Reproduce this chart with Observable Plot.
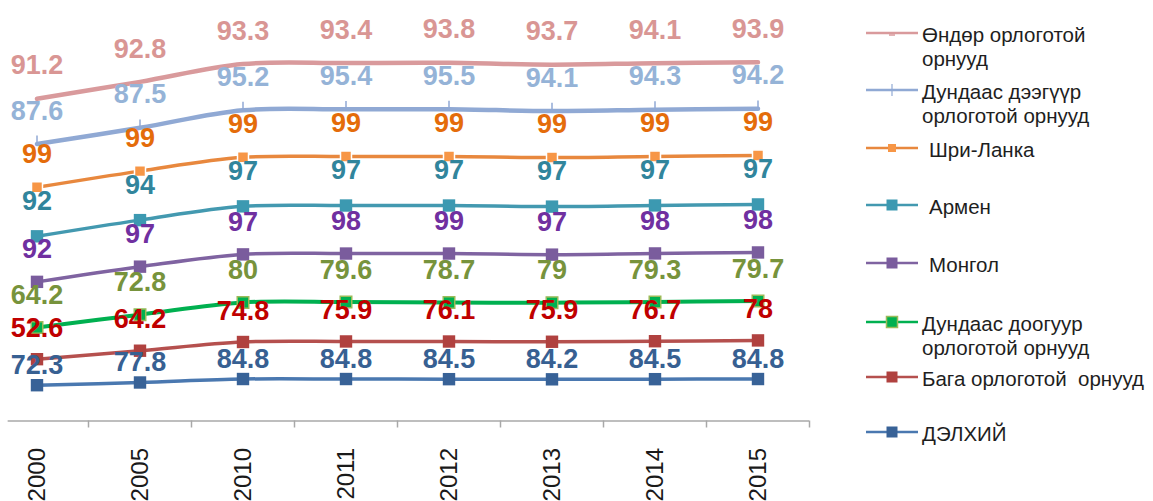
<!DOCTYPE html>
<html>
<head>
<meta charset="utf-8">
<script src="https://cdn.jsdelivr.net/npm/d3@7"></script>
<script src="https://cdn.jsdelivr.net/npm/@observablehq/plot@0.6"></script>
<style>
  html, body { margin: 0; padding: 0; background: #fff; }
  #wrap { position: relative; width: 1153px; height: 501px; overflow: hidden; font-family: "Liberation Sans", Arial, sans-serif; }
  .leg { position: absolute; }
  .legtxt { position: absolute; font-size: 20.5px; line-height: 24px; color: #1e1e1e; white-space: nowrap; }
</style>
</head>
<body>
<div id="wrap"></div>
<script>
// ---- data ----
const years = ["2000", "2005", "2010", "2011", "2012", "2013", "2014", "2015"];
// legend order (top to bottom)
const seriesNames = [
  "Өндөр орлоготой орнууд",
  "Дундаас дээгүүр орлоготой орнууд",
  "Шри-Ланка",
  "Армен",
  "Монгол",
  "Дундаас доогуур орлоготой орнууд",
  "Бага орлоготой орнууд",
  "ДЭЛХИЙ"
];
const highIncome     = [91.2, 92.8, 93.3, 93.4, 93.8, 93.7, 94.1, 93.9];
const upperMiddle    = [87.6, 87.5, 95.2, 95.4, 95.5, 94.1, 94.3, 94.2];
const sriLanka       = [99, 99, 99, 99, 99, 99, 99, 99];
const armenia        = [92, 94, 97, 97, 97, 97, 97, 97];
const mongolia       = [92, 97, 97, 98, 99, 97, 98, 98];
const lowerMiddle    = [64.2, 72.8, 80, 79.6, 78.7, 79, 79.3, 79.7];
const lowIncome      = [52.6, 64.2, 74.8, 75.9, 76.1, 75.9, 76.7, 78];
const world          = [72.3, 77.8, 84.8, 84.8, 84.5, 84.2, 84.5, 84.8];
const seriesValues = [highIncome, upperMiddle, sriLanka, armenia, mongolia, lowerMiddle, lowIncome, world];

// ---- styles ----
const styles = [
  {line: "#d99a9c", lw: 4.5, label: "#d99694", marker: "none", dy: -33},
  {line: "#90a9d4", lw: 4.5, label: "#95b3d7", marker: "plus", mfill: "#90a9d4", dy: -33},
  {line: "#e8883e", lw: 3.5, label: "#e46c0a", marker: "square", mfill: "#f79646", mstroke: "#ffffff", r: 6.2, dy: -33},
  {line: "#4399b0", lw: 3.5, label: "#31859c", marker: "square", mfill: "#3c99b1", r: 7, dy: -35},
  {line: "#7f63a1", lw: 3.5, label: "#7030a0", marker: "square", mfill: "#7a5c9d", r: 7, dy: -32},
  {line: "#00b050", lw: 4, label: "#77933c", marker: "square", mfill: "#00b050", mstroke: "#9bbb59", r: 6.5, dy: -32},
  {line: "#b5504e", lw: 3.5, label: "#c00000", marker: "square", mfill: "#b0413f", r: 7, dy: -31},
  {line: "#4a78b0", lw: 3.5, label: "#376092", marker: "square", mfill: "#386297", r: 7, dy: -20}
];

// stacked table (bottom = ДЭЛХИЙ)
const rows = [];
const cum = years.map(() => 0);
for (let k = seriesNames.length - 1; k >= 0; k--) {
  seriesValues[k].forEach((v, i) => {
    cum[i] += v;
    rows.push({series: seriesNames[k], k, i, value: v, cum: cum[i]});
  });
}

const plusSymbol = {
  draw(ctx, size) {
    const r = Math.sqrt(size / Math.PI);
    ctx.moveTo(0, -r * 1.4);
    ctx.lineTo(0, 0);
  }
};

const lineMarks = [], dotMarks = [], textMarks = [];
seriesNames.forEach((name, k) => {
  const s = styles[k];
  const d = rows.filter(r => r.k === k);
  lineMarks.push(Plot.line(d, {x: "i", y: "cum", stroke: s.line, strokeWidth: s.lw, curve: "catmull-rom"}));
  if (s.marker === "square") {
    dotMarks.push(Plot.dot(d, {x: "i", y: "cum", symbol: "square", r: s.r, fill: s.mfill, stroke: s.mstroke || "none", strokeWidth: s.mstroke ? 1.5 : 0}));
  } else if (s.marker === "plus") {
    dotMarks.push(Plot.dot(d, {x: "i", y: "cum", symbol: plusSymbol, r: 6, fill: "none", stroke: s.mfill, strokeWidth: 1.5}));
  }
  textMarks.push(Plot.text(d, {x: "i", y: "cum", text: r => String(r.value), dy: s.dy, fill: s.label, fontSize: 27, fontWeight: "bold"}));
});

const boundaries = d3.range(8).map(i => i + 0.5);

const chart = Plot.plot({
  width: 1153,
  height: 501,
  marginTop: 74,
  marginBottom: 80.5,
  marginLeft: 0,
  marginRight: 0,
  style: {fontFamily: "'Liberation Sans', Arial, sans-serif", background: "transparent", overflow: "visible"},
  x: {type: "linear", domain: [0, 7], range: [36.5, 757.5], axis: null},
  y: {domain: [0, 700], axis: null},
  marks: [
    Plot.ruleY([0], {x1: -0.28, x2: 7.5, stroke: "#a8a8a8", strokeWidth: 1.5}),
    Plot.axisX(boundaries, {tickSize: 7, tickFormat: () => "", label: null, stroke: "#a8a8a8", strokeWidth: 1.5}),
    Plot.axisX(d3.range(8), {tickSize: 0, tickPadding: 27, tickRotate: -90, tickFormat: i => years[i], label: null, fontSize: 24, fill: "#1a1a1a"}),
    ...lineMarks,
    ...dotMarks,
    ...textMarks
  ]
});

const wrap = document.getElementById("wrap");
chart.style.position = "absolute";
chart.style.left = "0px";
chart.style.top = "0px";
wrap.appendChild(chart);

// ---- legend ----
const legendY = [33, 90, 148, 205, 263, 322, 377, 432];
const legendText = [
  ["Өндөр орлоготой", "орнууд"],
  ["Дундаас дээгүүр", "орлоготой орнууд"],
  ["Шри-Ланка"],
  ["Армен"],
  ["Монгол"],
  ["Дундаас доогуур", "орлоготой орнууд"],
  ["Бага орлоготой  орнууд"],
  ["ДЭЛХИЙ"]
];
const legendTextX = [922, 922, 929, 929, 929, 922, 922, 922];
seriesNames.forEach((name, k) => {
  const s = styles[k];
  const y = legendY[k];
  const svg = d3.create("svg").attr("class", "leg").attr("width", 60).attr("height", 24)
    .style("left", "862px").style("top", (y - 12) + "px");
  svg.append("line").attr("x1", 4).attr("x2", 56).attr("y1", 12).attr("y2", 12)
    .attr("stroke", s.line).attr("stroke-width", 2.5);
  if (s.marker === "square") {
    const side = k === 2 ? 8 : 11;
    svg.append("rect").attr("x", 30 - side / 2).attr("y", 12 - side / 2).attr("width", side).attr("height", side)
      .attr("fill", s.mfill).attr("stroke", s.mstroke && k !== 2 ? s.mstroke : "none").attr("stroke-width", 1.5);
  } else if (s.marker === "plus") {
    svg.append("line").attr("x1", 30).attr("x2", 30).attr("y1", 6).attr("y2", 18).attr("stroke", s.mfill).attr("stroke-width", 1.2);
  } else {
    svg.append("line").attr("x1", 27).attr("x2", 33).attr("y1", 14).attr("y2", 14).attr("stroke", s.line).attr("stroke-width", 1.5);
  }
  wrap.appendChild(svg.node());
  const t = document.createElement("div");
  t.className = "legtxt";
  t.style.left = legendTextX[k] + "px";
  t.style.top = (y - 10) + "px";
  t.innerHTML = legendText[k].join("<br>").replace(/  /g, "&nbsp; ");
  wrap.appendChild(t);
});
</script>
</body>
</html>
